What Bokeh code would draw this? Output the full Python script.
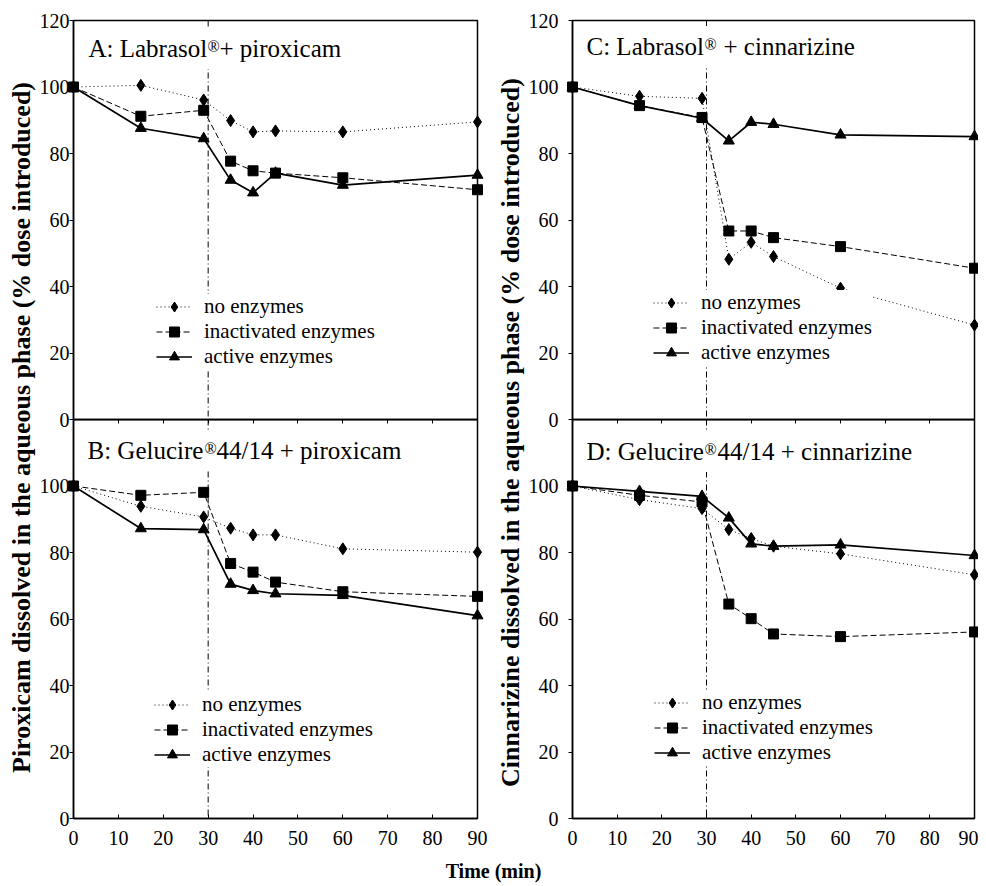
import math
from bokeh.plotting import figure
from bokeh.models import Range1d, FixedTicker, Legend, LegendItem, Span, Label
from bokeh.layouts import row, column
from bokeh.embed import file_html
from bokeh.resources import INLINE

# ---------------- data ----------------
time_min = [0, 15, 29, 35, 40, 45, 60, 90]

a_no_enz = [100, 100.5, 96.1, 89.9, 86.5, 86.8, 86.5, 89.5]
a_inact = [100, 91.2, 93.0, 77.7, 74.8, 74.1, 72.7, 69.1]
a_active = [100, 87.6, 84.5, 72.0, 68.2, 74.1, 70.5, 73.5]

b_no_enz = [100, 93.9, 90.7, 87.3, 85.3, 85.3, 81.1, 80.1]
b_inact = [100, 97.2, 98.1, 76.7, 74.1, 71.1, 68.2, 66.8]
b_active = [100, 87.2, 86.9, 70.5, 68.6, 67.6, 67.1, 61.0]

c_no_enz = [100, 97.2, 96.6, 48.2, 53.3, 49.0, 39.5, 28.4]
c_inact = [100, 94.4, 90.8, 56.7, 56.7, 54.7, 52.0, 45.5]
c_active = [100, 94.4, 90.6, 83.8, 89.4, 88.8, 85.6, 85.1]

d_no_enz = [100, 95.9, 93.2, 86.9, 84.2, 81.9, 79.6, 73.3]
d_inact = [100, 97.2, 95.2, 64.5, 60.1, 55.5, 54.7, 56.1]
d_active = [100, 98.4, 96.9, 90.4, 82.6, 81.9, 82.3, 79.1]

series_labels = ["no enzymes", "inactivated enzymes", "active enzymes"]
x_ticks = [0, 10, 20, 30, 40, 50, 60, 70, 80, 90]
y_ticks_top = [0, 20, 40, 60, 80, 100, 120]
y_ticks_bottom = [0, 20, 40, 60, 80, 100]
enzyme_time = 30

title_a = ["A: Labrasol", "\u00ae", "+ piroxicam"]
title_b = ["B: Gelucire", "\u00ae", "44/14 + piroxicam"]
title_c = ["C: Labrasol", "\u00ae", "+ cinnarizine"]
title_d = ["D: Gelucire", "\u00ae", "44/14 + cinnarizine"]

y_label_left = "Piroxicam dissolved in the aqueous phase (% dose introduced)"
y_label_right = "Cinnarizine dissolved in the aqueous phase (% dose introduced)"
x_label = "Time (min)"

# ---------------- style ----------------
FONT = "Liberation Serif"
FRAME_H = 399
OVERLAP = 12
STYLES = [
    dict(dash="1 3", width=1.0, marker="diamond", size=12),
    dict(dash="6 3", width=1.0, marker="square", size=10),
    dict(dash="solid", width=1.7, marker="triangle", size=11),
]


def make_panel(series, title, title_x, title_base, legend_loc, top,
               frame_w, b_left, b_right, standoff, yticks):
    p = figure(frame_width=frame_w, frame_height=FRAME_H,
               x_range=Range1d(0, 90), y_range=Range1d(0, 120),
               output_backend="svg", toolbar_location=None,
               min_border_left=b_left, min_border_right=b_right,
               min_border_top=20 if top else 0,
               min_border_bottom=OVERLAP if top else 32)
    p.grid.visible = False
    p.outline_line_color = "black"
    p.outline_line_width = 1.5
    if top:
        p.background_fill_color = "white"
        p.border_fill_color = "white"
    else:
        p.background_fill_color = None
        p.border_fill_color = None
        p.margin = (-OVERLAP, 0, 0, 0)

    ya = p.yaxis[0]
    ya.ticker = FixedTicker(ticks=yticks)
    ya.major_tick_out = 4
    ya.major_tick_in = 0
    ya.minor_tick_line_color = None
    ya.axis_line_width = 1.5
    ya.major_label_standoff = standoff
    ya.major_label_text_font = FONT
    ya.major_label_text_font_size = "20px"
    ya.major_label_text_color = "black"

    xa = p.xaxis[0]
    xa.ticker = FixedTicker(ticks=x_ticks)
    xa.minor_tick_line_color = None
    xa.axis_line_width = 1.5
    if top:
        xa.major_tick_in = 0
        xa.major_tick_out = 4
        xa.major_label_text_color = None
        xa.major_label_text_font_size = "0px"
        xa.major_label_standoff = 0
    else:
        xa.major_tick_in = 4
        xa.major_tick_out = 0
        xa.major_label_standoff = 12
        xa.major_label_text_font = FONT
        xa.major_label_text_font_size = "20px"
        xa.major_label_text_color = "black"

    items = []
    for vals, lab, st in zip(series, series_labels, STYLES):
        l = p.line(time_min, vals, line_color="black", line_width=st["width"],
                   line_dash=st["dash"])
        s = p.scatter(time_min, vals, marker=st["marker"], size=st["size"],
                      fill_color="black", line_color="black", level="overlay")
        items.append(LegendItem(label=lab, renderers=[l, s]))

    leg = Legend(items=items, location=legend_loc, orientation="vertical",
                 glyph_width=36, glyph_height=25, label_height=25,
                 label_standoff=12, padding=0, margin=0, spacing=0,
                 label_text_font=FONT, label_text_font_size="21px",
                 label_text_color="black",
                 background_fill_color="white", background_fill_alpha=1.0,
                 border_line_color=None)
    p.add_layout(leg)

    p.add_layout(Span(location=enzyme_time, dimension="height", line_color="black",
                      line_width=1, line_dash="6 3 1 3", level="overlay"))

    y0 = FRAME_H - title_base + 9
    p.add_layout(Label(x=title_x[0] - 7, y=y0, x_units="screen", y_units="screen",
                       text=title[0], text_font=FONT, text_font_size="25px",
                       text_color="black", text_baseline="alphabetic",
                       background_fill_color="white", padding=7, level="overlay"))
    p.add_layout(Label(x=title_x[1], y=y0 + 2, x_units="screen", y_units="screen",
                       text=title[1], text_font=FONT, text_font_size="16px",
                       text_color="black", text_baseline="alphabetic", level="overlay"))
    p.add_layout(Label(x=title_x[2], y=y0, x_units="screen", y_units="screen",
                       text=title[2], text_font=FONT, text_font_size="25px",
                       text_color="black", text_baseline="alphabetic", level="overlay"))
    return p


pa = make_panel([a_no_enz, a_inact, a_active], title_a, (15, 134, 146), 37,
                (83, 50), True, 404, 37, 10, 0, y_ticks_top)
pb = make_panel([b_no_enz, b_inact, b_active], title_b, (14, 131, 143), 40,
                (81, 51), False, 404, 37, 10, 0, y_ticks_bottom)
pc = make_panel([c_no_enz, c_inact, c_active], title_c, (14, 132, 151), 35,
                (81, 54), True, 402, 47, 4, 10, y_ticks_top)
pd = make_panel([d_no_enz, d_inact, d_active], title_d, (14, 132, 145), 41,
                (82, 53), False, 402, 47, 4, 10, y_ticks_bottom)

ROW_H = 20 + FRAME_H + OVERLAP + FRAME_H + 32 - OVERLAP


def text_fig(w, h, text, x, y, angle, size, baseline):
    f = figure(width=w, height=h, x_range=Range1d(0, w), y_range=Range1d(0, h),
               x_axis_location=None, y_axis_location=None, min_border=0,
               toolbar_location=None, output_backend="svg")
    f.grid.visible = False
    f.outline_line_color = None
    f.add_layout(Label(x=x, y=y, text=text, angle=angle, text_align="center",
                       text_baseline=baseline, text_font=FONT,
                       text_font_style="bold", text_font_size=size,
                       text_color="black"))
    return f


lab_left = text_fig(36, ROW_H, y_label_left, 21, ROW_H - 427, math.pi / 2, "26px", "middle")
lab_right = text_fig(38, ROW_H, y_label_right, 23, ROW_H - 432, math.pi / 2, "26px", "middle")
lab_time = text_fig(978, 34, x_label, 493, 14, 0, "20px", "middle")

layout = column(row(lab_left, column(pa, pb), lab_right, column(pc, pd)), lab_time)

open("out.html", "w").write(file_html(layout, INLINE))
